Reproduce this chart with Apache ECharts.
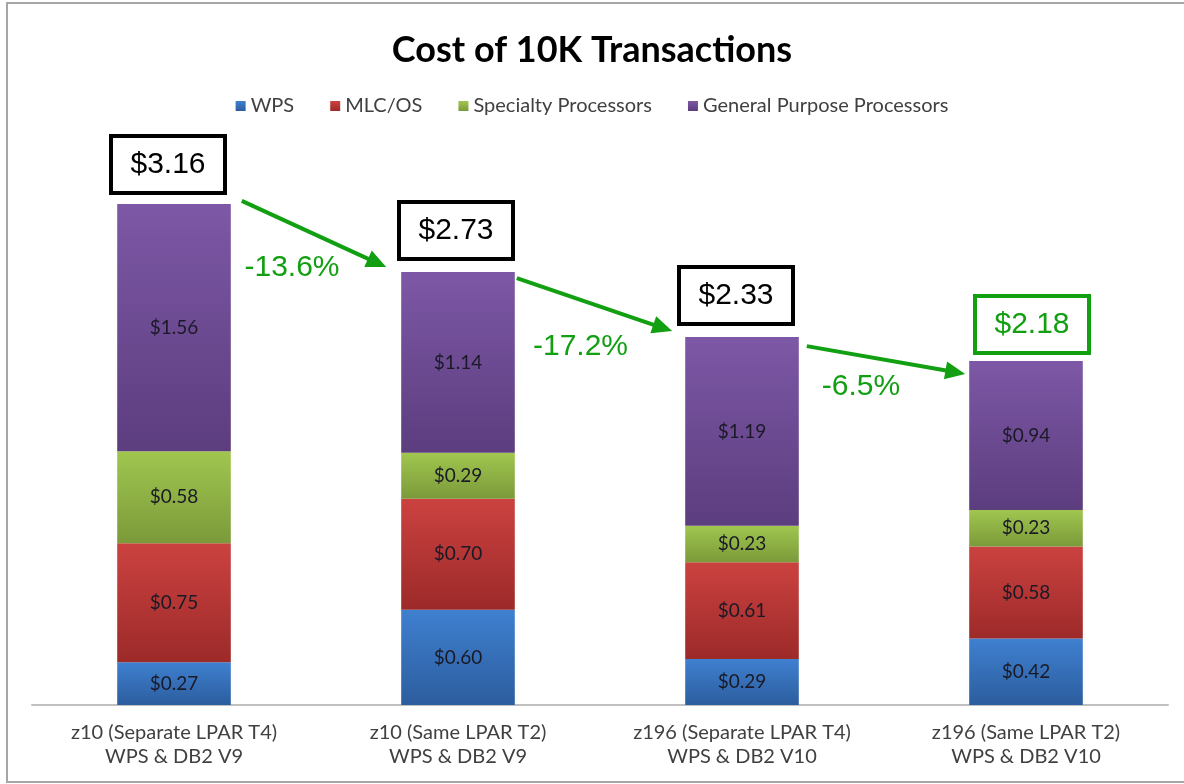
<!DOCTYPE html>
<html><head><meta charset="utf-8">
<script src="https://cdn.jsdelivr.net/npm/echarts@6/dist/echarts.min.js"></script>
<style>html,body{margin:0;padding:0;background:#fff}#c{width:1184px;height:784px}</style>
</head><body><div id="c"></div>
<script>
// ---- data ----
const categories = [
  'z10 (Separate LPAR T4)\nWPS & DB2 V9',
  'z10 (Same LPAR T2)\nWPS & DB2 V9',
  'z196 (Separate LPAR T4)\nWPS & DB2 V10',
  'z196 (Same LPAR T2)\nWPS & DB2 V10'
];
const seriesNames = ['WPS', 'MLC/OS', 'Specialty Processors', 'General Purpose Processors'];
const wps = [0.27, 0.60, 0.29, 0.42];
const mlcOs = [0.75, 0.70, 0.61, 0.58];
const specialty = [0.58, 0.29, 0.23, 0.23];
const generalPurpose = [1.56, 1.14, 1.19, 0.94];
const totals = [3.16, 2.73, 2.33, 2.18];
const changes = ['-13.6%', '-17.2%', '-6.5%'];

// ---- styling / layout (not data) ----
const colors = [['#3f80d0', '#2c5d9e'], ['#cb4240', '#9c2a29'], ['#a0c64f', '#7b9a3a'], ['#7d58a6', '#5c3d7e']];
const green = '#12a012';
const boxLayout = [{dx: -6, gap: 9}, {dx: -2, gap: 11}, {dx: -6, gap: 11}, {dx: 6, gap: 6}];
const arrowLayout = [
  {sx: 11, sy: -3, ex: -15, ey: -5, lx: -22, ly: 34},
  {sx: 2, sy: 6, ex: -13, ey: -6, lx: -14, ly: 42},
  {sx: 8, sy: 9, ex: -4, ey: 13, lx: -25, ly: 27}
];
const FONT = 'Lato, "Open Sans", sans-serif';

const dataSets = [wps, mlcOs, specialty, generalPurpose];
const chart = echarts.init(document.getElementById('c'), null, {renderer: 'canvas'});

const series = dataSets.map((d, i) => ({
  name: seriesNames[i],
  type: 'bar',
  stack: 'total',
  barWidth: '40%',
  data: d,
  itemStyle: {
    color: new echarts.graphic.LinearGradient(0, 0, 0, 1, [
      {offset: 0, color: colors[i][0]}, {offset: 1, color: colors[i][1]}
    ])
  },
  label: {
    show: true, position: 'inside', fontFamily: FONT, fontSize: 19,
    color: '#1a1a26', formatter: p => '$' + p.value.toFixed(2)
  }
}));

chart.setOption({
  animation: false,
  backgroundColor: '#fff',
  color: colors.map(c => c[0]),
  title: {
    text: 'Cost of 10K Transactions', left: 'center', top: 27,
    textStyle: {fontFamily: FONT, fontWeight: 'bold', fontSize: 36, color: '#000'}
  },
  legend: {
    top: 91, left: 'center', itemWidth: 10, itemHeight: 10, itemGap: 36, icon: 'rect',
    textStyle: {fontFamily: FONT, fontSize: 20, color: '#404040'}
  },
  grid: {left: 32, right: 16, top: 150, bottom: 79, containLabel: false},
  xAxis: {
    type: 'category', data: categories,
    axisLine: {lineStyle: {color: '#c0c0c0', width: 2}},
    axisTick: {show: false},
    axisLabel: {fontFamily: FONT, fontSize: 20, lineHeight: 24, color: '#404040', margin: 16}
  },
  yAxis: {type: 'value', min: 0, max: 3.5, show: false, splitLine: {show: false}},
  series: series
});

function arrow(x1, y1, x2, y2, color) {
  const ang = Math.atan2(y2 - y1, x2 - x1), L = 20, W = 9;
  const bx = x2 - L * Math.cos(ang), by = y2 - L * Math.sin(ang);
  const px = -Math.sin(ang), py = Math.cos(ang);
  return [
    {type: 'line', shape: {x1: x1, y1: y1, x2: bx + 2 * Math.cos(ang), y2: by + 2 * Math.sin(ang)}, style: {stroke: color, lineWidth: 4}},
    {type: 'polygon', shape: {points: [[x2, y2], [bx + px * W, by + py * W], [bx - px * W, by - py * W]]}, style: {fill: color}}
  ];
}

const stackTops = categories.map((_, i) => dataSets.reduce((s, d) => s + d[i], 0));
const p0 = chart.convertToPixel({gridIndex: 0}, [0, 0]);
const p1 = chart.convertToPixel({gridIndex: 0}, [1, 0]);
const halfW = (p1[0] - p0[0]) * 0.2;
const tops = stackTops.map((v, i) => chart.convertToPixel({gridIndex: 0}, [i, v]));

const elements = [{
  type: 'rect', shape: {x: 7, y: 3, width: 1200, height: 779},
  style: {fill: 'none', stroke: '#a6a6a6', lineWidth: 2}, silent: true
}];

totals.forEach((t, i) => {
  const cx = tops[i][0] + boxLayout[i].dx;
  const bottom = tops[i][1] - boxLayout[i].gap;
  const isLast = i === totals.length - 1;
  const col = isLast ? green : '#000';
  elements.push({
    type: 'rect', shape: {x: cx - 57, y: bottom - 59, width: 114, height: 57},
    style: {fill: '#fff', stroke: col, lineWidth: 4}
  });
  elements.push({
    type: 'text', x: cx, y: bottom - 30,
    style: {text: '$' + t.toFixed(2), fill: col, font: '30px "Liberation Sans", Arial, sans-serif',
      align: 'center', verticalAlign: 'middle', textAlign: 'center', textVerticalAlign: 'middle'}
  });
});

changes.forEach((c, i) => {
  const a = arrowLayout[i];
  const x1 = tops[i][0] + halfW + a.sx, y1 = tops[i][1] + a.sy;
  const x2 = tops[i + 1][0] - halfW + a.ex, y2 = tops[i + 1][1] + a.ey;
  arrow(x1, y1, x2, y2, green).forEach(e => elements.push(e));
  elements.push({
    type: 'text', x: (x1 + x2) / 2 + a.lx, y: (y1 + y2) / 2 + a.ly,
    style: {text: c, fill: green, font: '30px "Liberation Sans", Arial, sans-serif',
      align: 'center', verticalAlign: 'middle', textAlign: 'center', textVerticalAlign: 'middle'}
  });
});

chart.setOption({graphic: {elements: elements}});
</script>
</body></html>
